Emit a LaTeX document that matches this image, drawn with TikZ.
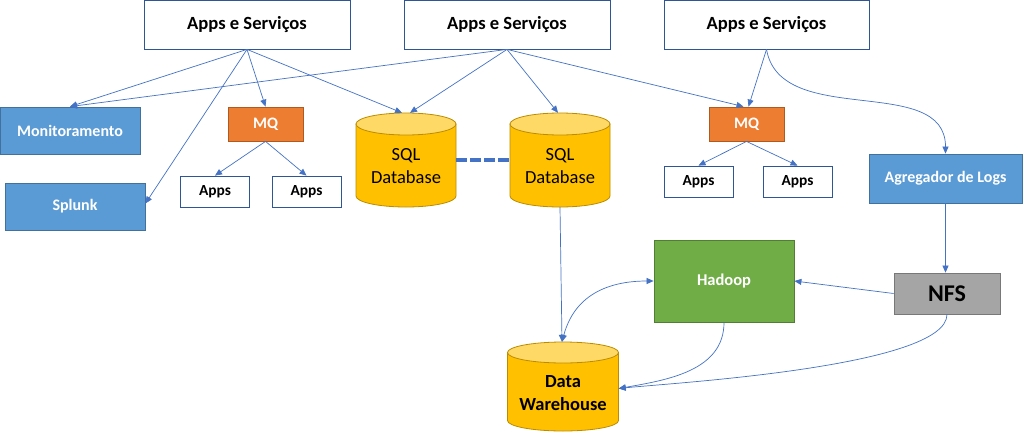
\documentclass[tikz,border=0pt]{standalone}
\usepackage{fontspec}
\setmainfont{Carlito}
\usetikzlibrary{arrows.meta}
\definecolor{ln}{HTML}{4472C4}
\definecolor{wbd}{HTML}{2F5597}
\definecolor{bluef}{HTML}{5B9BD5}
\definecolor{blued}{HTML}{41719C}
\definecolor{orf}{HTML}{ED7D31}
\definecolor{ord}{HTML}{AE5A21}
\definecolor{goldf}{HTML}{FFC000}
\definecolor{goldt}{HTML}{FFD966}
\definecolor{goldd}{HTML}{BC8C00}
\definecolor{grf}{HTML}{70AD47}
\definecolor{grd}{HTML}{507E32}
\definecolor{gyf}{HTML}{A5A5A5}
\definecolor{gyd}{HTML}{787878}
\newcommand\drawcyl[5]{%
  \filldraw[draw=goldd, fill=goldf, line width=0.8pt] (#1-#4, -#2-#5) -- (#1-#4, -#3+#5) arc[start angle=180, end angle=360, x radius=#4, y radius=#5] -- (#1+#4, -#2-#5) -- cycle;
  \filldraw[draw=goldd, fill=goldt, line width=0.8pt] (#1, -#2-#5) ellipse[x radius=#4, y radius=#5];
}
\begin{document}
\begin{tikzpicture}[x=1pt,y=1pt,
  box/.style={rectangle, inner sep=0pt, line width=0.8pt, align=center},
  appsbox/.style={box, draw=wbd, fill=white, minimum height=49pt, font=\fontsize{18.6}{20}\selectfont\bfseries},
  smallapps/.style={box, draw=wbd, fill=white, minimum width=69pt, minimum height=31pt, font=\fontsize{15.4}{17}\selectfont\bfseries},
  bluebox/.style={box, draw=blued, fill=bluef, text=white, font=\fontsize{16}{18}\selectfont\bfseries},
  mqbox/.style={box, draw=ord, fill=orf, text=white, minimum width=75pt, minimum height=34pt, font=\fontsize{16}{18}\selectfont\bfseries},
  cylarea/.style={inner sep=0pt},
  cyltext/.style={align=center, inner sep=0pt},
  conn/.style={draw=ln, line width=0.7pt, -{Triangle[length=7pt,width=6pt]}},
  biconn/.style={draw=ln, line width=0.7pt, {Triangle[length=7pt,width=6pt]}-{Triangle[length=7pt,width=6pt]}},
  dashline/.style={draw=ln, line width=4pt, dash pattern=on 10.5pt off 3.5pt}
]
\fill[white] (0,0) rectangle (1024,-434);
\useasboundingbox (0,0) rectangle (1024,-434);

% top boxes
\node[appsbox, minimum width=206pt] (apps1) at (247,-24.5) {Apps e Serviços};
\node[appsbox, minimum width=206pt] (apps2) at (507,-24.5) {Apps e Serviços};
\node[appsbox, minimum width=205pt] (apps3) at (766.5,-24.5) {Apps e Serviços};

% left blue boxes
\node[bluebox, minimum width=140pt, minimum height=47pt] (mon) at (70,-130.5) {Monitoramento};
\node[bluebox, minimum width=140pt, minimum height=47pt] (splunk) at (75,-206.5) {Splunk};

% MQ groups
\node[mqbox] (mq1) at (265.5,-124) {MQ};
\node[smallapps] (a1) at (215,-191.5) {Apps};
\node[smallapps] (a2) at (306.5,-191.5) {Apps};
\node[mqbox] (mq2) at (746.5,-124) {MQ};
\node[smallapps] (a3) at (698.5,-181.5) {Apps};
\node[smallapps] (a4) at (797.5,-181.5) {Apps};

% right side
\node[bluebox, minimum width=153pt, minimum height=49pt] (agg) at (945.5,-178.5) {Agregador de Logs};
\node[box, draw=grd, fill=grf, text=white, minimum width=140pt, minimum height=82pt, font=\fontsize{16.5}{18}\selectfont\bfseries] (hadoop) at (724,-281) {Hadoop};
\node[box, draw=gyd, fill=gyf, text=black, minimum width=106pt, minimum height=41pt, font=\fontsize{24}{26}\selectfont\bfseries] (nfs) at (947,-293.5) {NFS};

% cylinders
\drawcyl{406}{113}{207}{50}{11}
\drawcyl{560}{113}{207}{50}{11}
\drawcyl{563}{342}{431}{55.5}{10.5}
\node[cylarea, minimum width=100pt, minimum height=94pt] (sql1) at (406,-160) {};
\node[cylarea, minimum width=100pt, minimum height=94pt] (sql2) at (560,-160) {};
\node[cylarea, minimum width=111pt, minimum height=89pt] (dw) at (563,-386.5) {};
\node[cyltext, font=\fontsize{18.5}{23}\selectfont] (sql1t) at (406,-166) {SQL\\Database};
\node[cyltext, font=\fontsize{18.5}{23}\selectfont] (sql2t) at (560,-166) {SQL\\Database};
\node[cyltext, font=\fontsize{18.5}{23}\selectfont\bfseries] (dwt) at (563,-393) {Data\\Warehouse};

% connectors from top
\draw[conn] (apps1.south) -- (mon.north);
\draw[conn] (apps1.south) -- ([yshift=3pt]splunk.east);
\draw[conn] (apps1.south) -- (mq1.north);
\draw[conn] (apps1.south) -- ([xshift=-4pt]sql1.north);
\draw[conn] (apps2.south) -- (mon.north);
\draw[conn] (apps2.south) -- ([xshift=4pt]sql1.north);
\draw[conn] (apps2.south) -- ([xshift=-2pt]sql2.north);
\draw[conn] (apps2.south) -- ([xshift=-3pt]mq2.north);
\draw[conn] (apps3.south) -- ([xshift=2pt]mq2.north);
\draw[conn] (apps3.south) .. controls ([xshift=14pt,yshift=-80pt]apps3.south) and ([yshift=81pt]agg.north) .. (agg.north);

% MQ to apps
\draw[conn] (mq1.south) -- (a1.north);
\draw[conn] (mq1.south) -- (a2.north);
\draw[conn] (mq2.south) -- (a3.north);
\draw[conn] (mq2.south) -- (a4.north);

% dashed link
\draw[dashline] (sql1.east) -- (sql2.west);

% lower flows
\draw[conn] (agg.south) -- (agg.south |- nfs.north);
\draw[conn] (sql2.south) -- ([xshift=-1pt]dw.north);
\draw[biconn] (hadoop.west) to[out=180, in=75, looseness=1.1] ([xshift=-1pt]dw.north);
\draw[conn] (nfs.west) -- (hadoop.east);
\draw[conn] (hadoop.south) to[out=-90, in=10] ([yshift=-2pt]dw.east);
\draw[conn] (nfs.south) to[out=-90, in=6, looseness=0.4] ([yshift=-2pt]dw.east);
\end{tikzpicture}
\end{document}
